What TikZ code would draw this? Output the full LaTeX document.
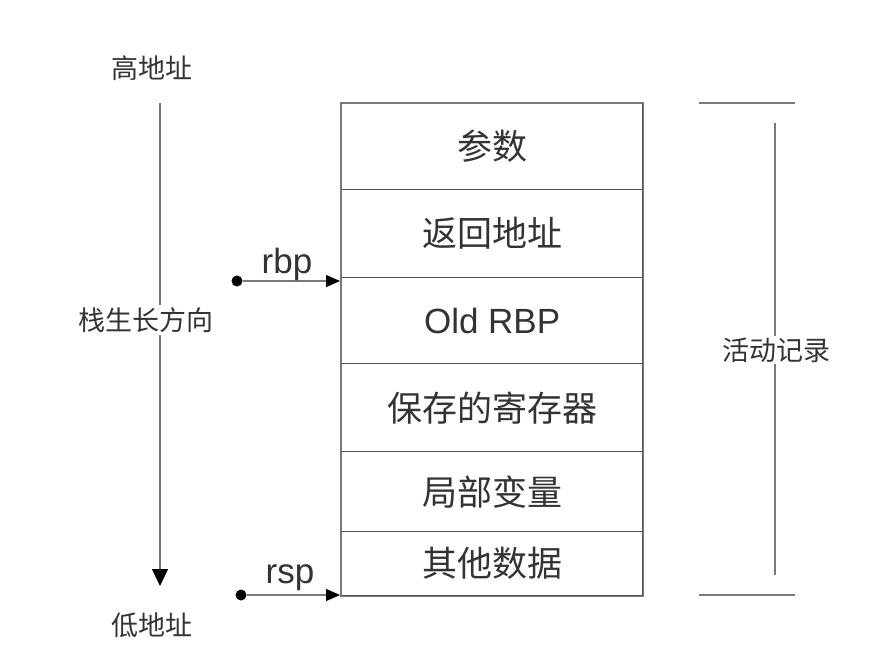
\documentclass[tikz,border=0pt]{standalone}
\usepackage{fontspec}
\setmainfont{Liberation Sans}
\newfontfamily\cjk{Noto Sans CJK SC}
\usetikzlibrary{arrows.meta}
\definecolor{linegray}{HTML}{7A7A7A}
\definecolor{divgray}{HTML}{555555}
\definecolor{txt}{HTML}{333333}
\tikzset{
  row/.style={draw=divgray, line width=1.2pt, minimum width=301pt, anchor=north west, inner sep=0pt, text=txt, font=\cjk\fontsize{35}{38}\selectfont},
  side/.style={text=txt, font=\cjk\fontsize{27}{30}\selectfont, inner sep=1pt},
  reg/.style={text=txt, font=\fontsize{35}{38}\selectfont, inner sep=0pt},
  dotn/.style={circle, fill=black, minimum size=11pt, inner sep=0pt},
  ptr/.style={draw=linegray, line width=1.3pt, -{Triangle[length=14pt,width=12pt,color=black]}},
  gline/.style={draw=linegray, line width=1.8pt}
}
\begin{document}
\begin{tikzpicture}[x=1pt,y=-1pt]
\useasboundingbox (0,0) rectangle (892,668);
% stack rows
\node[row, minimum height=86pt] (r1) at (341,103) {参数};
\node[row, minimum height=88pt] (r2) at (341,189) {返回地址};
\node[row, minimum height=86pt, font=\fontsize{35}{38}\selectfont] (r3) at (341,277) {Old RBP};
\node[row, minimum height=88pt] (r4) at (341,363) {保存的寄存器};
\node[row, minimum height=80pt] (r5) at (341,451) {局部变量};
\node[row, minimum height=64pt] (r6) at (341,531) {其他数据};
\draw[draw=linegray, line width=1.4pt] (r1.north west) -- (r1.north east) -- (r6.south east) -- (r6.south west) -- cycle;
% growth direction
\node[side] (hi) at (152,68) {高地址};
\node[side] (lo) at (152,625) {低地址};
\coordinate (gtop) at (160,103);
\coordinate (gbot) at (160,586);
\draw[draw=linegray, line width=1.3pt, -{Triangle[length=17pt,width=16pt,color=black]}] (gtop) -- (gbot);
\node[side, fill=white, inner sep=2pt] (dir) at (146,320) {栈生长方向};
% rbp
\node[dotn] (rbpd) at (237,281) {};
\coordinate (rbpe) at (340,281);
\draw[ptr] (rbpd) -- (rbpe);
\node[reg] (rbp) at (287,264) {rbp};
% rsp
\node[dotn] (rspd) at (241,595) {};
\coordinate (rspe) at (340,595);
\draw[ptr] (rspd) -- (rspe);
\node[reg] (rsp) at (290,578) {rsp};
% activation record bracket
\coordinate (bt1) at (699,103);
\coordinate (bt2) at (795,103);
\coordinate (bb1) at (699,595);
\coordinate (bb2) at (795,595);
\coordinate (bv1) at (775,123);
\coordinate (bv2) at (775,575);
\draw[gline] (bt1) -- (bt2);
\draw[gline] (bb1) -- (bb2);
\draw[gline] (bv1) -- (bv2);
\node[side, fill=white, inner sep=2pt] (ar) at (776,350) {活动记录};
\end{tikzpicture}
\end{document}
